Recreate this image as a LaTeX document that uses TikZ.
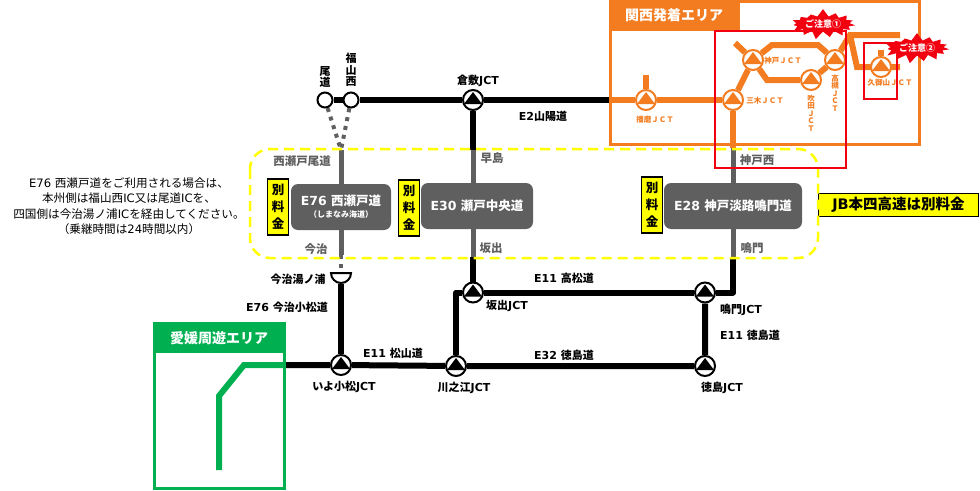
\documentclass[tikz,border=0pt]{standalone}
\usepackage{fontspec}
\setmainfont{Noto Sans CJK JP}
\newfontfamily\ltnfont{DejaVu Sans}
\newcommand{\ltn}[1]{{\ltnfont #1}}
\usetikzlibrary{arrows.meta, positioning, calc, shapes.geometric, shapes.symbols, backgrounds}
\definecolor{kansaiorange}{HTML}{F37C20}
\definecolor{ehimegreen}{HTML}{00B050}
\definecolor{routegray}{HTML}{5F5F5F}
\definecolor{noticered}{HTML}{F20010}
\definecolor{tollyellow}{HTML}{FFFF00}
\tikzset{
  jct/.style={circle, draw=#1, fill=white, line width=2pt, minimum size=20pt, inner sep=0pt,
    path picture={\fill[#1] ([yshift=8pt]path picture bounding box.center)
      -- ([xshift=-9pt,yshift=-4pt]path picture bounding box.center)
      -- ([xshift=9pt,yshift=-4pt]path picture bounding box.center) -- cycle;}},
  icnode/.style={circle, draw=black, fill=white, line width=2pt, minimum size=15pt, inner sep=0pt},
  blackroad/.style={line width=6pt, black, line join=round},
  grayroad/.style={line width=5pt, routegray},
  dotroad/.style={line width=4pt, routegray, dash pattern=on 4pt off 5pt},
  orangeroad/.style={line width=6pt, kansaiorange, line join=miter},
  lab/.style={inner sep=0pt, font=\bfseries\fontsize{11}{13}\selectfont, align=center},
  graylab/.style={inner sep=0pt, text=routegray, font=\bfseries\fontsize{11.5}{13}\selectfont},
  orangelab/.style={inner sep=0pt, text=kansaiorange, align=center, font=\bfseries\fontsize{7.5}{7.5}\selectfont},
  roadbox/.style={fill=routegray, rounded corners=7pt, text=white, align=center, inner sep=0pt,
    font=\bfseries\fontsize{12.5}{14}\selectfont},
  tollbox/.style={fill=tollyellow, draw=black, line width=1.5pt, minimum width=21pt, minimum height=56pt,
    inner sep=0pt, align=center, font=\bfseries\fontsize{12.5}{17}\selectfont},
  notice/.style={starburst, starburst points=15, starburst point height=8pt, random starburst=7,
    fill=noticered, text=white, inner sep=1pt, font=\bfseries\fontsize{9}{10}\selectfont},
}
\begin{document}
\begin{tikzpicture}[x=1pt, y=-1pt]
  \useasboundingbox (0,0) rectangle (980,490);
  % areas
  \node[draw=kansaiorange, line width=3pt, minimum width=309pt, minimum height=143pt, inner sep=0pt] (kansai) at (764.5,73) {};
  \node[fill=kansaiorange, minimum width=131pt, minimum height=30pt, inner sep=0pt, text=white,
        font=\bfseries\fontsize{14}{18}\selectfont] (kansaihead) at (674,15.5) {関西発着エリア};
  \node[draw=ehimegreen, line width=3pt, minimum width=130pt, minimum height=165pt, inner sep=0pt] (ehime) at (219,406) {};
  \node[fill=ehimegreen, minimum width=131pt, minimum height=30pt, inner sep=0pt, text=white,
        font=\bfseries\fontsize{14}{18}\selectfont] (ehimehead) at (219,338) {愛媛周遊エリア};

  % junctions
  \node[icnode] (onomichi) at (325,100) {};
  \node[icnode] (fukuyama) at (351,100) {};
  \node[jct=black] (kurashiki) at (473,100) {};
  \node[jct=black] (sakaide) at (473,292.5) {};
  \node[jct=black] (naruto) at (705,292.5) {};
  \node[jct=black] (iyo) at (341,365) {};
  \node[jct=black] (kawanoe) at (456,366) {};
  \node[jct=black] (tokushima) at (705,366) {};
  \node[semicircle, shape border rotate=180, draw=black, fill=white, line width=2pt, minimum width=19pt,
        minimum height=10pt, inner sep=0pt] (yunoura) at (341,277) {};
  \node[jct=kansaiorange] (harima) at (646,100) {};
  \node[jct=kansaiorange] (miki) at (733,100) {};
  \node[jct=kansaiorange] (kobe) at (753,60) {};
  \node[jct=kansaiorange] (suita) at (811,80) {};
  \node[jct=kansaiorange] (takatsuki) at (835,60) {};
  \node[jct=kansaiorange] (kumiyama) at (881,67) {};

  % road boxes
  \node[roadbox, minimum width=100pt, minimum height=46pt] (e76) at (341,207)
    {\ltn{E76 }西瀬戸道\\[-2pt]{\fontsize{8}{9}\selectfont （しまなみ海道）}};
  \node[roadbox, minimum width=112pt, minimum height=46pt] (e30) at (477,206) {\ltn{E30 }瀬戸中央道};
  \node[roadbox, minimum width=138pt, minimum height=46pt] (e28) at (733,206) {\ltn{E28 }神戸淡路鳴門道};
  \node[tollbox] (toll1) at (278,207) {別\\料\\金};
  \node[tollbox] (toll2) at (409,208) {別\\料\\金};
  \node[tollbox] (toll3) at (652,205) {別\\料\\金};
  \node[fill=tollyellow, draw=black, line width=1.5pt, minimum width=160pt, minimum height=23pt, inner sep=0pt,
        font=\bfseries\fontsize{14.5}{15}\selectfont] (jbnote) at (898.5,205) {\ltn{JB}本四高速は別料金};

  % free ends of the roads
  \coordinate (ehimeend) at (285,365);
  \coordinate (kansaiwest) at (609,100);
  \coordinate (e76top) at (341,150);
  \coordinate (e76low) at (341,255);
  \coordinate (sakaidecorner) at (456,292.5);
  \coordinate (narutotop) at (733,258);
  \coordinate (narutocorner) at (733,292.5);
  \coordinate (kurashikilow) at (473,150);
  \coordinate (sakaidetop) at (473,257);
  \coordinate (kobewest) at (733,148);
  \coordinate (gate) at (735,43);
  \coordinate (kobeup) at (772,45);
  \coordinate (kobeupend) at (818,45);
  \coordinate (kobelow) at (767,80);
  \coordinate (kumiup) at (850,35);
  \coordinate (kumiupend) at (900,35);
  \coordinate (kumilow) at (857,67);
  \coordinate (kumiend) at (900,67);

  \begin{scope}[on background layer]
    \draw[blackroad] (onomichi) -- (fukuyama) -- (kurashiki) -- (kansaiwest);
    \draw[blackroad] (kurashiki) -- (kurashikilow);
    \draw[grayroad] (kurashikilow) -- (sakaidetop);
    \draw[blackroad] (sakaidetop) -- (sakaide);
    \draw[blackroad] (kawanoe) -- (sakaidecorner) -- (sakaide) -- (naruto) -- (narutocorner) -- (narutotop);
    \draw[grayroad] (narutotop) -- (kobewest);
    \draw[blackroad] (naruto) -- (tokushima) -- (kawanoe) -- (iyo) -- (ehimeend);
    \draw[blackroad] (iyo) -- (yunoura);
    \draw[grayroad] (e76top) -- (e76low);
    \draw[dotroad] (onomichi) -- (e76top);
    \draw[dotroad] (fukuyama) -- (e76top);
    \draw[dotroad] (e76low) -- (yunoura);
    % kansai roads
    \draw[orangeroad] (kansaiwest) -- (harima) -- (miki) -- (kobewest);
    \draw[orangeroad] (harima) -- ++(0,-25);
    \draw[orangeroad] (miki) -- (kobe) -- (kobeup) -- (kobeupend) -- (takatsuki) -- (suita) -- (kobelow) -- (kobe) -- (gate);
    \draw[orangeroad] (takatsuki) -- (kumiup) -- (kumiupend);
    \draw[orangeroad] (kumiup) -- (kumilow) -- (kumiend);
    \draw[orangeroad] (kumiyama) -- ++(0,-17);
    % ehime road
    \draw[line width=6pt, ehimegreen] (ehimeend) -- (244,365) -- (219,396) -- (219,470);
  \end{scope}

  % toll area and notices
  \draw[tollyellow, line width=2.5pt, dash pattern=on 10pt off 6pt, rounded corners=20pt] (250,149) rectangle (818,258);
  \draw[noticered, line width=2pt] (714.5,31) rectangle (846,168);
  \draw[noticered, line width=2pt] (864,43) rectangle (897,99);
  \node[notice, minimum width=56pt, minimum height=29pt] (notice1) at (823,24) {ご注意①};
  \node[notice, minimum width=56pt, minimum height=29pt] (notice2) at (917,48) {ご注意②};

  % labels
  \node[lab, font=\bfseries\fontsize{11}{11.5}\selectfont] (lonomichi) at (325,77) {尾\\道};
  \node[lab, font=\bfseries\fontsize{11}{11.5}\selectfont] (lfukuyama) at (351,70) {福\\山\\西};
  \node[lab] (lkurashiki) at (478,81) {倉敷\ltn{JCT}};
  \node[lab] (lsanyo) at (543,116) {\ltn{E2}山陽道};
  \node[lab] (ltakamatsu) at (564,278) {\ltn{E11 }高松道};
  \node[lab] (lsakaide) at (507,306) {坂出\ltn{JCT}};
  \node[lab] (lnaruto) at (741,310) {鳴門\ltn{JCT}};
  \node[lab] (ltokushimaroad) at (750,335) {\ltn{E11 }徳島道};
  \node[lab] (ltokushima) at (722,388) {徳島\ltn{JCT}};
  \node[lab] (le32) at (564,355) {\ltn{E32 }徳島道};
  \node[lab] (lkawanoe) at (464,388) {川之江\ltn{JCT}};
  \node[lab] (lmatsuyama) at (393,353) {\ltn{E11 }松山道};
  \node[lab] (liyo) at (344,387) {いよ小松\ltn{JCT}};
  \node[lab] (lkomatsu) at (287,307) {\ltn{E76 }今治小松道};
  \node[lab] (lyunoura) at (298,279) {今治湯ノ浦};
  \node[graylab] (lnishiseto) at (302,161) {西瀬戸尾道};
  \node[graylab] (limabari) at (316,249) {今治};
  \node[graylab] (lhayashima) at (492,158) {早島};
  \node[graylab] (lsakaideic) at (491,248) {坂出};
  \node[graylab] (lkobewest) at (757,160) {神戸西};
  \node[graylab] (lnarutoic) at (752,248) {鳴門};
  \node[orangelab] (lharima) at (655,120) {播磨ＪＣＴ};
  \node[orangelab] (lmiki) at (765,101) {三木ＪＣＴ};
  \node[orangelab] (lkobe) at (783,61) {神戸ＪＣＴ};
  \node[orangelab] (lsuita) at (811,113) {吹\\田\\Ｊ\\Ｃ\\Ｔ};
  \node[orangelab] (ltakatsuki) at (835,93) {高\\槻\\Ｊ\\Ｃ\\Ｔ};
  \node[orangelab] (lkumiyama) at (890,83) {久御山ＪＣＴ};
  \node[inner sep=0pt, align=center, font=\fontsize{11.6}{15.5}\selectfont] (usage) at (129,206)
    {\ltn{E76 }西瀬戸道をご利用される場合は、\\本州側は福山西\ltn{IC}又は尾道\ltn{IC}を、\\四国側は今治湯ノ浦\ltn{IC}を経由してください。\\（乗継時間は\ltn{24}時間以内）};
\end{tikzpicture}
\end{document}
